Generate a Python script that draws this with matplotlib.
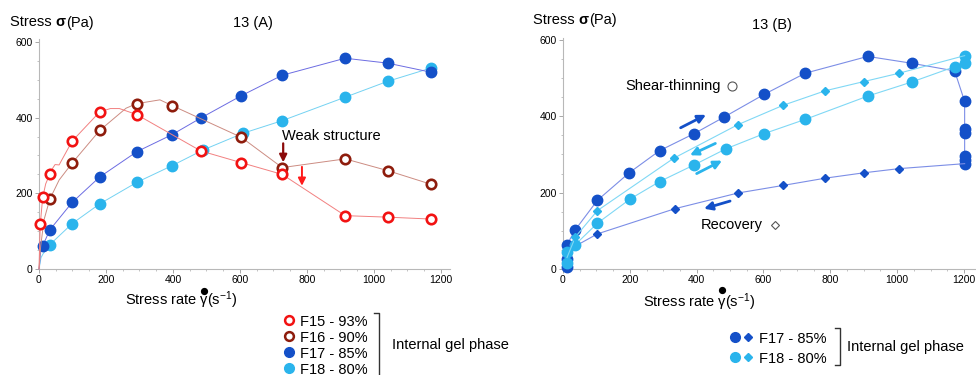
import matplotlib
matplotlib.use("Agg")
import matplotlib.pyplot as plt
from matplotlib.lines import Line2D
from matplotlib.ticker import MultipleLocator

plt.rcParams["font.family"] = ["Liberation Sans", "DejaVu Sans"]
plt.rcParams["mathtext.fontset"] = "custom"
plt.rcParams["mathtext.rm"] = "Liberation Sans"
plt.rcParams["mathtext.it"] = "Liberation Sans:italic"

# ---- 13 (A): flow curves of the four formulations ----
f15_x = [0, 1, 2, 4, 11, 20, 32, 42, 48, 60, 99, 181, 213, 240, 292, 483, 604, 726, 914, 1041, 1170]
f15_y = [0, 30, 70, 120, 189, 225, 250, 268, 276, 275, 338, 415, 424, 424, 408, 312, 281, 250, 141, 137, 132]
f15_marks = [3, 4, 6, 10, 11, 14, 15, 16, 17, 18, 19, 20]

f16_x = [0, 5, 15, 32, 60, 99, 181, 260, 292, 361, 397, 604, 726, 914, 1041, 1170]
f16_y = [0, 60, 130, 184, 235, 280, 366, 425, 437, 447, 432, 348, 268, 291, 260, 224]
f16_marks = [3, 5, 6, 8, 10, 11, 12, 13, 14, 15]

f17_x = [0, 2, 3, 5, 11, 32, 99, 181, 292, 397, 483, 604, 726, 914, 1041, 1170]
f17_y = [0, 15, 30, 45, 61, 103, 176, 243, 310, 355, 399, 458, 512, 557, 544, 520]
f17_marks = list(range(4, 16))

f18_x = [0, 3, 6, 12, 32, 99, 181, 292, 397, 491, 610, 726, 914, 1041, 1170]
f18_y = [0, 15, 30, 40, 64, 120, 172, 229, 273, 315, 359, 392, 454, 496, 531]
f18_marks = list(range(4, 15))

# ---- 13 (B): shear-thinning ramp up, hold, recovery ramp down ----
f17_up_x = [12, 12, 12, 37, 103, 198, 289, 393, 482, 603, 725, 912, 1044, 1172, 1202, 1202, 1202, 1202, 1202, 1202]
f17_up_y = [4, 26, 64, 103, 180, 252, 310, 355, 398, 458, 513, 557, 539, 519, 439, 367, 356, 295, 285, 276]
f17_down_x = [1202, 1006, 900, 785, 659, 523, 335, 103, 37, 12]
f17_down_y = [276, 263, 252, 238, 219, 199, 158, 92, 60, 20]

f18_up_x = [12, 12, 37, 103, 202, 289, 393, 488, 603, 725, 912, 1044, 1172, 1202, 1202]
f18_up_y = [16, 44, 64, 120, 184, 229, 273, 315, 355, 392, 453, 490, 530, 541, 559]
f18_down_x = [1202, 1006, 900, 785, 659, 523, 331, 103, 37, 12]
f18_down_y = [559, 513, 491, 467, 429, 378, 290, 153, 84, 30]

labels_a = ["F15 - 93%", "F16 - 90%", "F17 - 85%", "F18 - 80%"]
labels_b = ["F17 - 85%", "F18 - 80%"]

RED, DARKRED, BLUE, CYAN = "#f21212", "#8e1c0c", "#1450c8", "#2ab4ec"
W, H = 976, 375


def fx(px):
    return px / W


def fy(py):
    return 1 - py / H


fig = plt.figure(figsize=(9.76, 3.75), dpi=100)
ax1 = fig.add_axes([fx(39), fy(269), fx(411), 229.7 / H])
ax2 = fig.add_axes([fx(563), fy(269), fx(412), 231.3 / H])

for ax, xmax, ymax in [(ax1, 1227, 607), (ax2, 1233, 606)]:
    ax.set_xlim(0, xmax)
    ax.set_ylim(0, ymax)
    for s in ["top", "right"]:
        ax.spines[s].set_visible(False)
    for s in ["left", "bottom"]:
        ax.spines[s].set_color("#b8b8b8")
        ax.spines[s].set_linewidth(0.8)
    ax.set_xticks(range(0, 1201, 200))
    ax.set_yticks(range(0, 601, 200))
    ax.xaxis.set_minor_locator(MultipleLocator(50))
    ax.yaxis.set_minor_locator(MultipleLocator(50))
    ax.tick_params(which="major", length=3, width=0.6, color="#999999",
                   labelsize=7.5, pad=1.5)
    ax.tick_params(which="minor", length=1.5, width=0.5, color="#aaaaaa")

# panel A curves
ax1.plot(f18_x, f18_y, color="#74d2f2", lw=0.7, marker="o", ms=7.5,
         mfc=CYAN, mec=CYAN, markevery=f18_marks, clip_on=False, zorder=3)
ax1.plot(f17_x, f17_y, color="#6c6ce2", lw=0.7, marker="o", ms=7.5,
         mfc=BLUE, mec=BLUE, markevery=f17_marks, clip_on=False, zorder=4)
ax1.plot(f16_x, f16_y, color="#cc8c82", lw=0.7, marker="o", ms=6.8,
         mfc="white", mec=DARKRED, mew=1.9, markevery=f16_marks, clip_on=False, zorder=5)
ax1.plot(f15_x, f15_y, color="#f28080", lw=0.7, marker="o", ms=6.8,
         mfc="white", mec=RED, mew=1.9, markevery=f15_marks, clip_on=False, zorder=6)

ax1.text(726, 352, "Weak structure", fontsize=10.5, va="center", ha="left")
ax1.annotate("", xy=(729, 282), xytext=(729, 332),
             arrowprops=dict(arrowstyle="-|>", color="#8b0a0a", lw=1.6,
                             mutation_scale=11, shrinkA=0, shrinkB=0))
ax1.annotate("", xy=(785, 220), xytext=(785, 270),
             arrowprops=dict(arrowstyle="-|>", color="#ff1a1a", lw=1.4,
                             mutation_scale=11, shrinkA=0, shrinkB=0))

# panel B curves
ax2.plot(f17_up_x, f17_up_y, color="#7c8ee6", lw=0.8, marker="o", ms=7.5,
         mfc=BLUE, mec=BLUE, clip_on=False, zorder=3)
ax2.plot(f17_down_x, f17_down_y, color="#7c8ee6", lw=0.8, marker="D", ms=3.6,
         mfc=BLUE, mec=BLUE, markevery=list(range(1, 8)), clip_on=False, zorder=3)
ax2.plot(f18_up_x, f18_up_y, color="#80d8f5", lw=0.8, marker="o", ms=7.5,
         mfc=CYAN, mec=CYAN, clip_on=False, zorder=4)
ax2.plot(f18_down_x, f18_down_y, color="#80d8f5", lw=0.8, marker="D", ms=3.6,
         mfc=CYAN, mec=CYAN, markevery=list(range(1, 9)), clip_on=False, zorder=4)

for (x0, y0, x1, y1, c) in [(352, 370, 428, 404, BLUE), (456, 329, 380, 298, CYAN),
                            (400, 250, 476, 284, CYAN), (500, 178, 422, 158, BLUE)]:
    ax2.annotate("", xy=(x1, y1), xytext=(x0, y0),
                 arrowprops=dict(arrowstyle="-|>", color=c, lw=2.0,
                                 mutation_scale=12, shrinkA=0, shrinkB=0))

ax2.text(187, 480, "Shear-thinning", fontsize=10.5, va="center", ha="left")
ax2.plot([507], [480], marker="o", ms=6.5, mfc="white", mec="#555555", mew=0.8)
ax2.text(412, 114, "Recovery", fontsize=10.5, va="center", ha="left")
ax2.plot([633], [114], marker="D", ms=4.5, mfc="white", mec="#555555", mew=0.8)

renderer = fig.canvas.get_renderer()


def width_px(s, **kw):
    t = fig.text(0, 0, s, **kw)
    w = t.get_window_extent(renderer).width
    t.remove()
    return w


def stress_label(x, yb):
    w1 = width_px("Stress ", fontsize=10.5)
    w2 = width_px("σ", fontsize=10.5, fontweight="bold")
    fig.text(fx(x), fy(yb), "Stress ", fontsize=10.5, va="baseline")
    fig.text(fx(x + w1), fy(yb), "σ", fontsize=10.5, fontweight="bold", va="baseline")
    fig.text(fx(x + w1 + w2), fy(yb), "(Pa)", fontsize=10.5, va="baseline")


def rate_label(x, yb, dot_y):
    w1 = width_px("Stress rate ", fontsize=10.5)
    wg = width_px("γ", fontsize=10.5)
    fig.text(fx(x), fy(yb), "Stress rate γ(s$^{-1}$)", fontsize=10.5, va="baseline")
    fig.add_artist(Line2D([fx(x + w1 + wg / 2)], [fy(dot_y)], transform=fig.transFigure,
                          marker="o", ms=4.2, color="black", ls="none"))


stress_label(10, 26.5)
fig.text(fx(233), fy(26.5), "13 (A)", fontsize=10.5, va="baseline")
rate_label(125, 305, 290.5)

stress_label(533, 24)
fig.text(fx(752), fy(29), "13 (B)", fontsize=10.5, va="baseline")
rate_label(643, 307, 289.5)


def bracket(x, y0, y1):
    fig.add_artist(Line2D([fx(x - 5), fx(x), fx(x), fx(x - 5)],
                          [fy(y0), fy(y0), fy(y1), fy(y1)],
                          transform=fig.transFigure, color="#333333", lw=1.0))


# legend of panel A
styles_a = [dict(mfc="white", mec=RED, mew=1.8, ms=6.3),
            dict(mfc="white", mec=DARKRED, mew=1.8, ms=6.3),
            dict(mfc=BLUE, mec=BLUE, ms=7),
            dict(mfc=CYAN, mec=CYAN, ms=7)]
for i, (lab, st) in enumerate(zip(labels_a, styles_a)):
    yc = 320 + 16 * i
    fig.add_artist(Line2D([fx(289)], [fy(yc)], transform=fig.transFigure,
                          marker="o", ls="none", **st))
    fig.text(fx(300), fy(yc + 5.5), lab, fontsize=10.5, va="baseline")
bracket(379, 313, 377)
fig.text(fx(392), fy(348.5), "Internal gel phase", fontsize=10.5, va="baseline")

# legend of panel B
for i, (lab, c) in enumerate(zip(labels_b, [BLUE, CYAN])):
    yc = 337 + 20 * i
    fig.add_artist(Line2D([fx(735)], [fy(yc)], transform=fig.transFigure,
                          marker="o", ls="none", ms=7, mfc=c, mec=c))
    fig.add_artist(Line2D([fx(748)], [fy(yc)], transform=fig.transFigure,
                          marker="D", ls="none", ms=3.6, mfc=c, mec=c))
    fig.text(fx(759), fy(yc + 5.8), lab, fontsize=10.5, va="baseline")
bracket(840, 328, 365)
fig.text(fx(847), fy(351), "Internal gel phase", fontsize=10.5, va="baseline")

fig.savefig("out.png", dpi=100)
